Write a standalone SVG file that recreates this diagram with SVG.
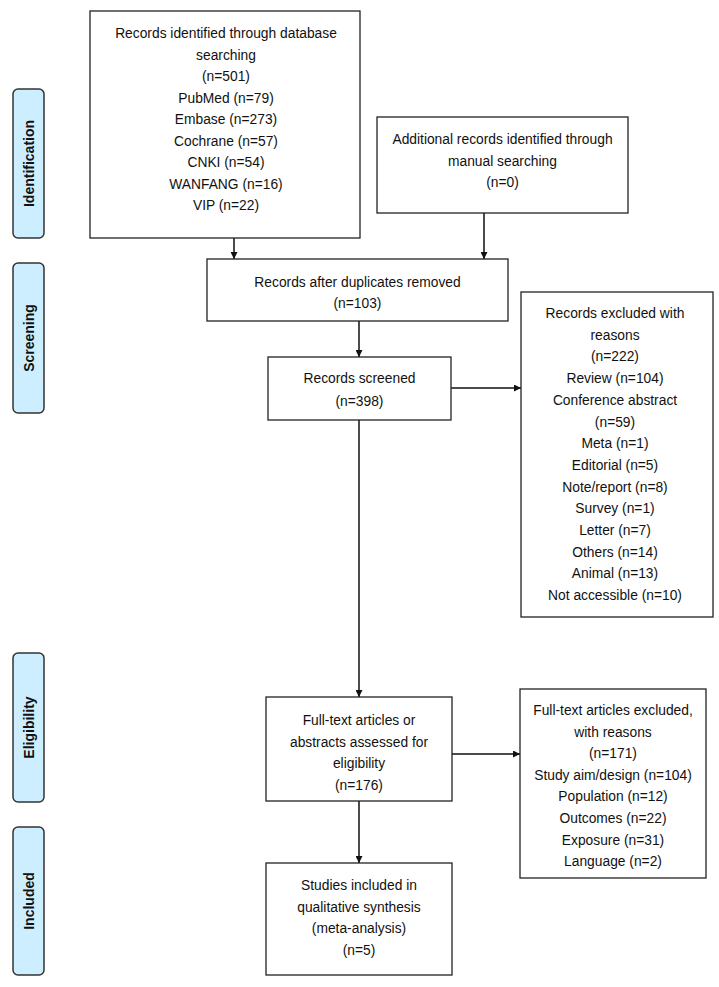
<svg xmlns="http://www.w3.org/2000/svg" width="719" height="987" viewBox="0 0 719 987">
<defs>
<style>
.box{fill:#fff;stroke:#222;stroke-width:1.3}
.side{fill:#cdeeff;stroke:#333;stroke-width:1.5}
.t{font-family:"Liberation Sans",Arial,sans-serif;font-size:13.8px;fill:#111;text-anchor:middle}
.s{font-family:"Liberation Sans",Arial,sans-serif;font-size:14px;font-weight:bold;fill:#111;text-anchor:middle}
.c{stroke:#111;stroke-width:1.5;fill:none;marker-end:url(#ah)}
</style>
<marker id="ah" viewBox="0 0 10 10" refX="10" refY="5" markerWidth="7" markerHeight="7" markerUnits="userSpaceOnUse" orient="auto">
<path d="M0,0 L10,5 L0,10 z" fill="#111"/>
</marker>
</defs>
<rect width="719" height="987" fill="#fff"/>

<g id="side-identification">
<rect class="side" x="13" y="89" width="31" height="149" rx="5"/>
<text class="s" x="33.5" y="163.5" transform="rotate(-90 33.5 163.5)">Identification</text>
</g>
<g id="side-screening">
<rect class="side" x="13" y="263" width="31" height="150" rx="5"/>
<text class="s" x="33.5" y="338" transform="rotate(-90 33.5 338)">Screening</text>
</g>
<g id="side-eligibility">
<rect class="side" x="13" y="653" width="31" height="149" rx="5"/>
<text class="s" x="33.5" y="727.5" transform="rotate(-90 33.5 727.5)">Eligibility</text>
</g>
<g id="side-included">
<rect class="side" x="13" y="827" width="31" height="148" rx="5"/>
<text class="s" x="33.5" y="901" transform="rotate(-90 33.5 901)">Included</text>
</g>

<g id="connectors">
<line class="c" x1="234" y1="238" x2="234" y2="259"/>
<line class="c" x1="484" y1="213" x2="484" y2="259"/>
<line class="c" x1="359" y1="321" x2="359" y2="357"/>
<line class="c" x1="451" y1="388" x2="521" y2="388"/>
<line class="c" x1="359" y1="420" x2="359" y2="697"/>
<line class="c" x1="452" y1="754" x2="520" y2="754"/>
<line class="c" x1="359" y1="801" x2="359" y2="863"/>
</g>

<g id="box-database">
<rect class="box" x="90" y="11" width="270" height="227"/>
<text class="t" x="226" y="38">Records identified through database</text>
<text class="t" x="226" y="59.5">searching</text>
<text class="t" x="226" y="81">(n=501)</text>
<text class="t" x="226" y="102.5">PubMed (n=79)</text>
<text class="t" x="226" y="124">Embase (n=273)</text>
<text class="t" x="226" y="145.5">Cochrane (n=57)</text>
<text class="t" x="226" y="167">CNKI (n=54)</text>
<text class="t" x="226" y="188.5">WANFANG (n=16)</text>
<text class="t" x="226" y="210">VIP (n=22)</text>
</g>

<g id="box-manual">
<rect class="box" x="377" y="117" width="251" height="96"/>
<text class="t" x="502.5" y="144">Additional records identified through</text>
<text class="t" x="502.5" y="165.5">manual searching</text>
<text class="t" x="502.5" y="187">(n=0)</text>
</g>

<g id="box-duplicates">
<rect class="box" x="207" y="259" width="301" height="62"/>
<text class="t" x="357.5" y="286.5">Records after duplicates removed</text>
<text class="t" x="357.5" y="308">(n=103)</text>
</g>

<g id="box-screened">
<rect class="box" x="268" y="357" width="183" height="63"/>
<text class="t" x="359.5" y="383">Records screened</text>
<text class="t" x="359.5" y="406">(n=398)</text>
</g>

<g id="box-excluded">
<rect class="box" x="521" y="292" width="192" height="325"/>
<text class="t" x="615" y="318">Records excluded with</text>
<text class="t" x="615" y="339.7">reasons</text>
<text class="t" x="615" y="361.4">(n=222)</text>
<text class="t" x="615" y="383.1">Review (n=104)</text>
<text class="t" x="615" y="404.8">Conference abstract</text>
<text class="t" x="615" y="426.5">(n=59)</text>
<text class="t" x="615" y="448.2">Meta (n=1)</text>
<text class="t" x="615" y="469.9">Editorial (n=5)</text>
<text class="t" x="615" y="491.6">Note/report (n=8)</text>
<text class="t" x="615" y="513.3">Survey (n=1)</text>
<text class="t" x="615" y="535">Letter (n=7)</text>
<text class="t" x="615" y="556.7">Others (n=14)</text>
<text class="t" x="615" y="578.4">Animal (n=13)</text>
<text class="t" x="615" y="600.1">Not accessible (n=10)</text>
</g>

<g id="box-fulltext">
<rect class="box" x="266" y="697" width="186" height="104"/>
<text class="t" x="359" y="725">Full-text articles or</text>
<text class="t" x="359" y="746.5">abstracts assessed for</text>
<text class="t" x="359" y="768">eligibility</text>
<text class="t" x="359" y="789.5">(n=176)</text>
</g>

<g id="box-fulltext-excluded">
<rect class="box" x="520" y="689" width="186" height="189"/>
<text class="t" x="613" y="715">Full-text articles excluded,</text>
<text class="t" x="613" y="736.6">with reasons</text>
<text class="t" x="613" y="758.2">(n=171)</text>
<text class="t" x="613" y="779.8">Study aim/design (n=104)</text>
<text class="t" x="613" y="801.4">Population (n=12)</text>
<text class="t" x="613" y="823">Outcomes (n=22)</text>
<text class="t" x="613" y="844.6">Exposure (n=31)</text>
<text class="t" x="613" y="866.2">Language (n=2)</text>
</g>

<g id="box-included">
<rect class="box" x="266" y="863" width="186" height="112"/>
<text class="t" x="359" y="890">Studies included in</text>
<text class="t" x="359" y="911.5">qualitative synthesis</text>
<text class="t" x="359" y="933">(meta-analysis)</text>
<text class="t" x="359" y="954.5">(n=5)</text>
</g>
</svg>
